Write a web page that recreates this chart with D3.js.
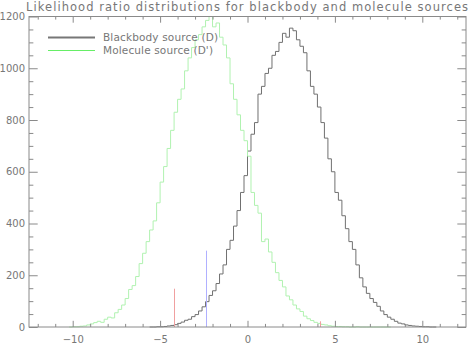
<!DOCTYPE html>
<html>
<head>
<meta charset="utf-8">
<script src="https://cdn.jsdelivr.net/npm/d3@7"></script>
<style>
  body { margin: 0; background: #fff; }
  svg text { font-family: "DejaVu Sans", sans-serif; fill: #777; }
</style>
</head>
<body>
<script>
// counts per 0.2-wide bin
const binWidth = 0.2;

const bbStart = -5.6;
const bbCounts = [
  0, 0, 1, 1, 2, 4, 6, 9, 14,
  19, 26, 30, 40, 48, 62, 78, 98, 122, 140,
  168, 205, 240, 300, 335, 390, 450, 520, 585, 680,
  745, 790, 900, 930, 980, 1000, 1050, 1065, 1100, 1135,
  1120, 1155, 1145, 1110, 1085, 1060, 990, 930, 900, 850,
  790, 730, 650, 600, 520, 490, 430, 380, 330, 300,
  240, 190, 155, 130, 110, 95, 80, 62, 48, 38,
  30, 22, 15, 12, 8, 6, 4, 3, 2, 1,
  1, 0, 0
];

const molStart = -10.2;
const molCounts = [
  0, 1, 1, 3, 4, 8, 12, 17, 22, 18,
  30, 38, 35, 55, 68, 85, 110, 145, 160, 195,
  245, 285, 330, 375, 410, 480, 560, 620, 690, 760,
  830, 880, 920, 990, 1040, 1080, 1110, 1130, 1160, 1185,
  1200, 1160, 1175, 1120, 1090, 1040, 940, 880, 820, 760,
  720, 660, 520, 470, 440, 330, 340, 290, 250, 210,
  180, 155, 120, 105, 85, 70, 60, 42, 32, 25,
  18, 14, 10, 8, 5, 3, 2, 2, 1, 1,
  0, 0, 1, 0, 0, 0, 0, 0, 0, 0, 0, 0
];

// vertical marker lines
const markerX = [-4.18, -2.37, 4.17];
const markerH = [148, 295, 22];
const markerColor = ["#f0a0a0", "#b0b0ff", "#f0a0a0"];

const xMajor = [-10, -5, 0, 5, 10];
const xMinor = d3.range(-12, 13, 1).filter(v => v % 5 !== 0);
const yMajor = [0, 200, 400, 600, 800, 1000, 1200];
const yMinor = d3.range(0, 1201, 50).filter(v => v % 200 !== 0);

const legendLabels = ["Blackbody source (D)", "Molecule source (D')"];
const titleText = "Likelihood ratio distributions for blackbody and molecule sources";

const width = 470;
const height = 344;
const margin = { top: 16.5, right: 4, bottom: 17, left: 29 };

const svg = d3.select("body")
  .append("svg")
  .attr("width", width)
  .attr("height", height);

const x = d3.scaleLinear()
  .domain([-12.5, 12.5])
  .range([margin.left, width - margin.right]);

const y = d3.scaleLinear()
  .domain([0, 1200])
  .range([height - margin.bottom, margin.top]);

const axisColor = "#8a8a8a";

// title
svg.append("text")
  .attr("x", 247)
  .attr("y", 11)
  .attr("text-anchor", "middle")
  .attr("textLength", 442)
  .attr("lengthAdjust", "spacing")
  .style("font-size", "11.5px")
  .text(titleText);

// histograms
function steps(start, counts) {
  const pts = counts.map((c, i) => [start + i * binWidth, c]);
  pts.push([start + counts.length * binWidth, counts[counts.length - 1]]);
  return pts;
}

const line = d3.line()
  .x(d => x(d[0]))
  .y(d => y(d[1]))
  .curve(d3.curveStepAfter);

svg.append("path")
  .attr("d", line(steps(bbStart, bbCounts)))
  .attr("fill", "none")
  .attr("stroke", "#707070")
  .attr("stroke-width", 1);

svg.append("path")
  .attr("d", line(steps(molStart, molCounts)))
  .attr("fill", "none")
  .attr("stroke", "#b0f2b0")
  .attr("stroke-width", 1);

// markers
svg.selectAll("line.marker")
  .data(markerX)
  .enter()
  .append("line")
  .attr("class", "marker")
  .attr("x1", d => Math.round(x(d)) + 0.5)
  .attr("x2", d => Math.round(x(d)) + 0.5)
  .attr("y1", y(0))
  .attr("y2", (d, i) => y(markerH[i]))
  .attr("stroke", (d, i) => markerColor[i])
  .attr("stroke-width", 1);

// axes (ticks point inward, on all four sides)
function styleAxis(g) {
  g.select(".domain").remove();
  g.selectAll("line").attr("stroke", axisColor);
  g.selectAll("text").style("font-size", "10px").attr("fill", "#777");
}

const xt = 6.2, yt = 8.7;

svg.append("g")
  .attr("transform", `translate(0, ${y(0)})`)
  .call(d3.axisBottom(x).tickValues(xMajor).tickSize(-xt).tickSizeOuter(0).tickPadding(9))
  .call(styleAxis);
svg.append("g")
  .attr("transform", `translate(0, ${y(0)})`)
  .call(d3.axisBottom(x).tickValues(xMinor).tickSize(-xt / 2).tickFormat(""))
  .call(styleAxis);
svg.append("g")
  .attr("transform", `translate(0, ${y(1200)})`)
  .call(d3.axisTop(x).tickValues(xMajor).tickSize(-xt).tickFormat(""))
  .call(styleAxis);
svg.append("g")
  .attr("transform", `translate(0, ${y(1200)})`)
  .call(d3.axisTop(x).tickValues(xMinor).tickSize(-xt / 2).tickFormat(""))
  .call(styleAxis);

svg.append("g")
  .attr("transform", `translate(${x(-12.5)}, 0)`)
  .call(d3.axisLeft(y).tickValues(yMajor).tickSize(-yt).tickPadding(4).tickFormat(d3.format("d")))
  .call(styleAxis);
svg.append("g")
  .attr("transform", `translate(${x(-12.5)}, 0)`)
  .call(d3.axisLeft(y).tickValues(yMinor).tickSize(-yt / 2).tickFormat(""))
  .call(styleAxis);
svg.append("g")
  .attr("transform", `translate(${x(12.5)}, 0)`)
  .call(d3.axisRight(y).tickValues(yMajor).tickSize(-yt).tickFormat(""))
  .call(styleAxis);
svg.append("g")
  .attr("transform", `translate(${x(12.5)}, 0)`)
  .call(d3.axisRight(y).tickValues(yMinor).tickSize(-yt / 2).tickFormat(""))
  .call(styleAxis);

// frame
svg.append("rect")
  .attr("x", x(-12.5))
  .attr("y", y(1200))
  .attr("width", x(12.5) - x(-12.5))
  .attr("height", y(0) - y(1200))
  .attr("fill", "none")
  .attr("stroke", axisColor)
  .attr("stroke-width", 1);

// legend
const legendColors = ["#777777", "#66ee66"];
const legendWidths = [2, 1];
const legendText = [115, 110];
legendLabels.forEach((label, i) => {
  const ly = 37.5 + i * 13;
  svg.append("line")
    .attr("x1", 48).attr("x2", 95)
    .attr("y1", ly).attr("y2", ly)
    .attr("stroke", legendColors[i])
    .attr("stroke-width", legendWidths[i]);
  svg.append("text")
    .attr("x", 103)
    .attr("y", ly)
    .attr("dy", "0.35em")
    .attr("textLength", legendText[i])
    .attr("lengthAdjust", "spacing")
    .style("font-size", "10.5px")
    .text(label);
});
</script>
</body>
</html>
